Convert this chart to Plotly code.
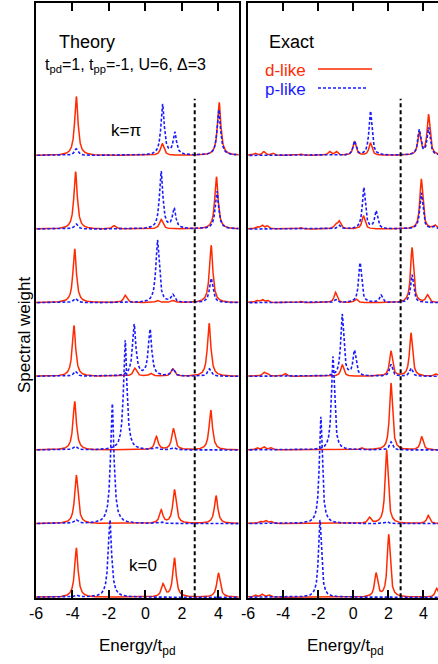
import numpy as np
import plotly.graph_objects as go

# ---------------- data ----------------
energy_ticks = [-6, -4, -2, 0, 2, 4]
tick_labels = ["-6", "-4", "-2", "0", "2", "4"]
fermi_level = 2.7          # vertical dashed line
row_labels = {0: "k=0", 6: "k=\u03c0"}

# peaks (energy, height) for each momentum row k = 0 (bottom) ... 6 (top)
theory_d = [
    [(-3.79, 0.67), (0.96, 0.17), (1.59, 0.53), (4.0, 0.33)],
    [(-3.79, 0.66), (0.86, 0.18), (1.59, 0.46), (3.87, 0.38)],
    [(-3.88, 0.66), (0.60, 0.18), (1.53, 0.29), (3.58, 0.54)],
    [(-3.92, 0.69), (-0.58, 0.11), (0.29, 0.04), (1.50, 0.10), (3.49, 0.72)],
    [(-3.88, 0.73), (-1.11, 0.10), (0.65, 0.03), (1.50, 0.03), (3.60, 0.78)],
    [(-3.83, 0.78), (-1.72, 0.045), (0.86, 0.13), (3.89, 0.71)],
    [(-3.79, 0.80), (0.92, 0.16), (4.04, 0.72)],
]
theory_p = [
    [(-3.80, 0.03), (-1.95, 1.05)],
    [(-3.80, 0.05), (-1.82, 1.63), (0.90, 0.02)],
    [(-3.85, 0.05), (-1.11, 1.49), (0.60, 0.03), (1.53, 0.03)],
    [(-3.85, 0.07), (-0.62, 0.70), (0.25, 0.63), (1.50, 0.10), (3.50, 0.10)],
    [(-3.85, 0.06), (0.66, 0.85), (1.50, 0.10), (3.60, 0.33)],
    [(-3.80, 0.07), (0.86, 0.78), (1.57, 0.27), (3.92, 0.51)],
    [(-3.80, 0.09), (0.94, 0.69), (1.61, 0.30), (4.02, 0.62)],
]
exact_d = [
    [(-5.6, 0.03), (-5.2, 0.04), (-4.8, 0.03), (1.30, 0.32), (2.02, 0.85), (4.75, 0.12)],
    [(-5.3, 0.03), (-5.0, 0.04), (-4.7, 0.03), (0.92, 0.08), (1.90, 1.00), (4.27, 0.11)],
    [(-5.5, 0.03), (-5.1, 0.04), (-4.7, 0.03), (0.45, 0.03), (2.15, 0.91), (3.90, 0.18)],
    [(-5.1, 0.05), (-4.9, 0.03), (-3.9, 0.04), (-0.63, 0.16), (2.15, 0.34), (3.29, 0.59), (4.71, 0.03)],
    [(-5.5, 0.03), (-5.2, 0.04), (-4.9, 0.03), (-3.0, 0.02), (-1.01, 0.14), (0.16, 0.05),
     (3.35, 0.75), (4.23, 0.10)],
    [(-5.5, 0.03), (-5.2, 0.05), (-4.9, 0.04), (-3.0, 0.02), (-1.0, 0.06), (-0.8, 0.10),
     (0.58, 0.18), (3.88, 0.68), (4.65, 0.05)],
    [(-5.6, 0.03), (-5.1, 0.05), (-4.6, 0.03), (-3.0, 0.02), (-1.35, 0.05), (-0.97, 0.05),
     (0.07, 0.19), (0.98, 0.17), (3.76, 0.30), (4.29, 0.55)],
]
exact_p = [
    [(-1.90, 1.05)],
    [(-1.85, 1.45), (1.90, 0.03)],
    [(-1.16, 1.27), (2.15, 0.11)],
    [(-0.63, 0.84), (0.07, 0.34), (2.15, 0.16), (3.29, 0.11)],
    [(-1.00, 0.04), (0.39, 0.54), (1.58, 0.10), (3.35, 0.38)],
    [(-0.80, 0.05), (0.60, 0.56), (1.30, 0.24), (3.88, 0.49), (4.60, 0.03)],
    [(0.07, 0.19), (0.98, 0.60), (3.76, 0.34), (4.29, 0.37)],
]

# ---------------- styling ----------------
RED = "#ff2a00"
BLUE = "#1a1aff"
FONT = "Liberation Sans, Arial, Helvetica, sans-serif"
GAMMA_THEORY = 0.11
GAMMA_EXACT = 0.10
W, H = 438, 664
ML, MR, MT, MB = 36, 0, 3, 66
PW, PH = W - ML - MR, H - MT - MB


def xp(px):
    return (px - ML) / PW


def yp(py):
    return (H - MB - py) / PH


def spectrum(peaks, x, gamma):
    y = np.zeros_like(x)
    for e, h in peaks:
        y += h * gamma ** 2 / ((x - e) ** 2 + gamma ** 2)
    return y


fig = go.Figure()
grid = np.linspace(-6.2, 5.3, 2301)

for d_rows, p_rows, g, xa, ya in [(theory_d, theory_p, GAMMA_THEORY, "x", "y"),
                                  (exact_d, exact_p, GAMMA_EXACT, "x2", "y2")]:
    for k, peaks in enumerate(d_rows):
        fig.add_trace(go.Scatter(x=grid, y=spectrum(peaks, grid, g) + k, mode="lines",
                                 line=dict(color=RED, width=1.5), xaxis=xa, yaxis=ya,
                                 showlegend=False, hoverinfo="skip"))
    for k, peaks in enumerate(p_rows):
        fig.add_trace(go.Scatter(x=grid, y=spectrum(peaks, grid, g) + k, mode="lines",
                                 line=dict(color=BLUE, width=1.6, dash="3px,2px"),
                                 xaxis=xa, yaxis=ya, showlegend=False, hoverinfo="skip"))
    fig.add_shape(type="line", xref=xa, yref=ya, x0=fermi_level, x1=fermi_level,
                  y0=0, y1=6.77, line=dict(color="black", width=2, dash="4px,3px"))

axis_common = dict(showgrid=False, zeroline=False, showline=True, linecolor="black",
                   linewidth=2, ticks="inside", ticklen=8, tickwidth=1.5,
                   tickcolor="black", tickvals=energy_ticks, ticktext=tick_labels,
                   tickfont=dict(family=FONT, size=16, color="black"), mirror="ticks")
yaxis_common = dict(showgrid=False, zeroline=False, showline=True, linecolor="black",
                    linewidth=2, showticklabels=False, ticks="", range=[-0.01, 8.07])

fig.update_layout(
    width=W, height=H, margin=dict(l=ML, r=MR, t=MT, b=MB),
    paper_bgcolor="white", plot_bgcolor="white",
    xaxis=dict(axis_common, domain=[0, xp(238.5)], range=[-6, 5.1], anchor="y"),
    xaxis2=dict(axis_common, domain=[xp(248), 1], range=[-6, 4.83], anchor="y2"),
    yaxis=dict(yaxis_common, mirror=True, anchor="x"),
    yaxis2=dict(yaxis_common, mirror=False, anchor="x2"),
    font=dict(family=FONT, color="black"),
)


def note(text, x, y, size=17, color="black", xanchor="center", angle=0):
    fig.add_annotation(text=text, x=xp(x), y=yp(y), xref="paper", yref="paper",
                       showarrow=False, xanchor=xanchor, yanchor="middle",
                       font=dict(family=FONT, size=size, color=color), textangle=angle)


note("Theory", 57, 42, size=18, xanchor="left")
note("t<sub>pd</sub>=1, t<sub>pp</sub>=-1, U=6, \u0394=3", 43, 66, size=16, xanchor="left")
note(row_labels[6], 126, 130, size=17)
note(row_labels[0], 142.5, 565, size=17)
note("Exact", 266.5, 42, size=18, xanchor="left")
note("d-like", 262.5, 70, size=17, color=RED, xanchor="left")
note("p-like", 262.5, 89, size=17, color=BLUE, xanchor="left")
note("Energy/t<sub>pd</sub>", 137, 647, size=17)
note("Energy/t<sub>pd</sub>", 345, 647, size=17)
note("Spectral weight", 24, 335, size=17, angle=-90)

fig.add_shape(type="line", xref="paper", yref="paper", x0=xp(318), x1=xp(372),
              y0=yp(69), y1=yp(69), line=dict(color=RED, width=1.5))
fig.add_shape(type="line", xref="paper", yref="paper", x0=xp(318), x1=xp(368),
              y0=yp(88), y1=yp(88), line=dict(color=BLUE, width=1.6, dash="3px,2px"))

fig.write_html("out.html")
